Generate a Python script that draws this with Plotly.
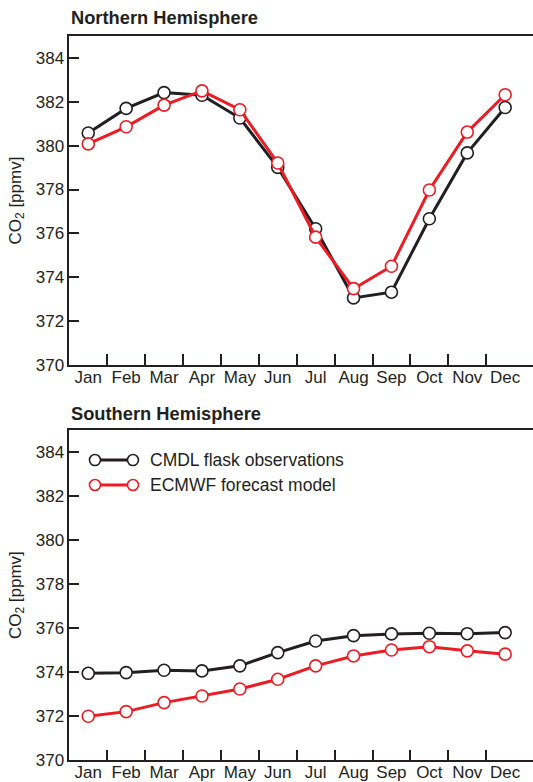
import plotly.graph_objects as go

months = ["Jan", "Feb", "Mar", "Apr", "May", "Jun", "Jul", "Aug", "Sep", "Oct", "Nov", "Dec"]

nh_cmdl = [380.58, 381.70, 382.42, 382.30, 381.26, 379.01, 376.21, 373.06, 373.32, 376.67, 379.67, 381.74]
nh_ecmwf = [380.08, 380.86, 381.85, 382.50, 381.64, 379.21, 375.83, 373.48, 374.50, 377.98, 380.62, 382.32]

sh_cmdl = [373.95, 373.98, 374.09, 374.06, 374.29, 374.89, 375.42, 375.66, 375.74, 375.77, 375.75, 375.80]
sh_ecmwf = [372.00, 372.21, 372.62, 372.92, 373.24, 373.68, 374.29, 374.74, 375.01, 375.16, 374.97, 374.82]

y_ticks = [370, 372, 374, 376, 378, 380, 382, 384]
series_names = ["CMDL flask observations", "ECMWF forecast model"]

BLACK = "#231f20"
RED = "#ec1c24"
FONT = "Liberation Sans, Arial, Helvetica, sans-serif"
FS = 17

W, H = 533, 782
x_pos = [i + 0.5 for i in range(len(months))]
bounds = list(range(1, len(months)))

fig = go.Figure()

def add_series(ys, color, xa, ya, name):
    fig.add_trace(go.Scatter(
        x=x_pos, y=ys, mode="lines+markers", name=name,
        line=dict(color=color, width=3),
        marker=dict(symbol="circle", size=12, color="white",
                    line=dict(color=color, width=1.6)),
        xaxis=xa, yaxis=ya, showlegend=False,
    ))

add_series(nh_cmdl, BLACK, "x", "y", series_names[0])
add_series(nh_ecmwf, RED, "x", "y", series_names[1])
add_series(sh_cmdl, BLACK, "x2", "y2", series_names[0])
add_series(sh_ecmwf, RED, "x2", "y2", series_names[1])

LPX = 69.3
left = LPX / W
xrange_ = [0, (W - LPX) / 37.9]

def xaxis_cfg():
    return dict(
        domain=[left, 1], range=xrange_, automargin=False,
        tickmode="array", tickvals=x_pos, ticktext=months,
        ticks="", showgrid=False, zeroline=False,
        showline=True, linecolor=BLACK, linewidth=1.5, mirror=True,
        tickfont=dict(family=FONT, size=FS, color=BLACK),
        ticklabelstandoff=-4,
        minor=dict(tickmode="array", tickvals=bounds, ticks="inside",
                   ticklen=11, tickwidth=1.5, tickcolor=BLACK, showgrid=False),
        fixedrange=True,
    )

def yaxis_cfg(dom, anchor):
    return dict(
        domain=dom, range=[370, 385], anchor=anchor, automargin=False,
        tickmode="array", tickvals=y_ticks,
        ticks="inside", ticklen=10, tickwidth=1.5, tickcolor=BLACK,
        showgrid=False, zeroline=False,
        showline=True, linecolor=BLACK, linewidth=1.5,
        tickfont=dict(family=FONT, size=FS, color=BLACK),
        title=dict(text="CO<sub>2</sub> [ppmv]", font=dict(family=FONT, size=FS, color=BLACK), standoff=10),
        fixedrange=True,
    )

top_dom = [1 - 365 / H, 1 - 36 / H]
bot_dom = [1 - 760.3 / H, 1 - 430 / H]

fig.update_layout(
    width=W, height=H,
    margin=dict(l=0, r=0, t=0, b=0, autoexpand=False),
    paper_bgcolor="white", plot_bgcolor="white",
    xaxis=dict(anchor="y", **xaxis_cfg()),
    yaxis=yaxis_cfg(top_dom, "x"),
    xaxis2=dict(anchor="y2", **xaxis_cfg()),
    yaxis2=yaxis_cfg(bot_dom, "x2"),
    showlegend=False,
)

# Panel titles
fig.add_annotation(text="<b>Northern Hemisphere</b>", xref="paper", yref="paper",
                   x=left, y=1 - 18 / H, xanchor="left", yanchor="middle", showarrow=False,
                   font=dict(family=FONT, size=18.3, color=BLACK))
fig.add_annotation(text="<b>Southern Hemisphere</b>", xref="paper", yref="paper",
                   x=left, y=1 - 413 / H, xanchor="left", yanchor="middle", showarrow=False,
                   font=dict(family=FONT, size=18.3, color=BLACK))

# Custom legend inside the southern panel
leg_rows = [(series_names[0], BLACK, 0.909), (series_names[1], RED, 0.8335)]
x0d, x1d, xtd = 0.0554, 0.1373, 0.1697
for name, color, yy in leg_rows:
    fig.add_shape(type="line", xref="x2 domain", yref="y2 domain",
                  x0=x0d, x1=x1d, y0=yy, y1=yy, line=dict(color=color, width=3))
    for xc in (x0d, x1d):
        fig.add_shape(type="circle", xref="x2 domain", yref="y2 domain",
                      xsizemode="pixel", ysizemode="pixel",
                      xanchor=xc, yanchor=yy, x0=-5.5, x1=5.5, y0=-5.5, y1=5.5,
                      fillcolor="white", line=dict(color=color, width=1.6))
    fig.add_annotation(text=name, xref="x2 domain", yref="y2 domain",
                       x=xtd, y=yy, xanchor="left", yanchor="middle", showarrow=False,
                       font=dict(family=FONT, size=FS + 0.5, color=BLACK))

fig.write_html("out.html", config={"displayModeBar": False},
               post_script="document.body.style.margin='0';")
